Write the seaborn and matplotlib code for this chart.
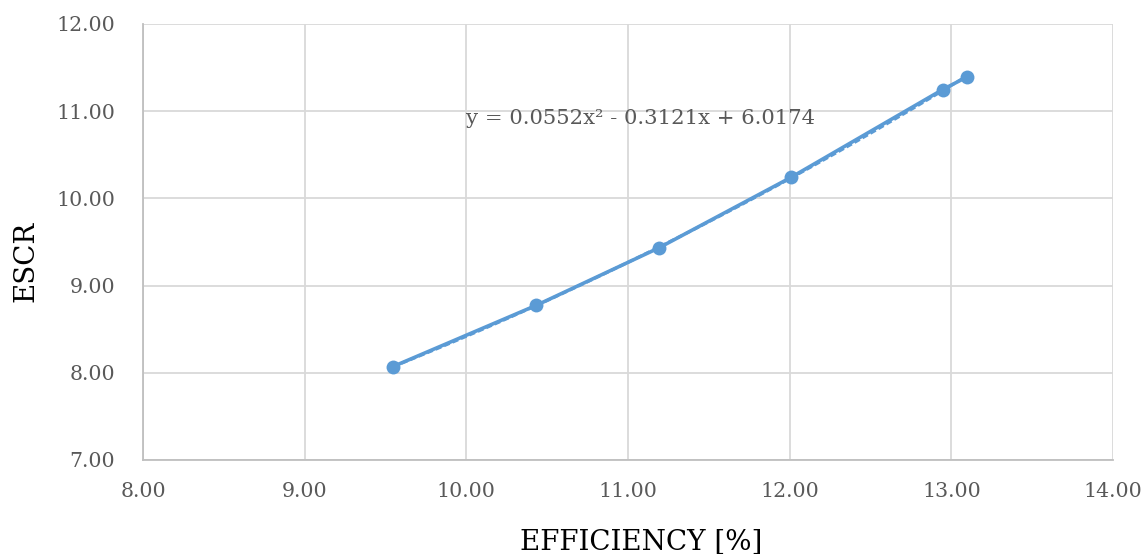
import matplotlib
matplotlib.use("Agg")
import matplotlib.pyplot as plt
import seaborn as sns
import numpy as np
import pandas as pd

efficiency = [9.547, 10.433, 11.189, 12.007, 12.946, 13.096]
escr = [8.072, 8.774, 9.431, 10.240, 11.248, 11.393]
x_ticks = [8, 9, 10, 11, 12, 13, 14]
y_ticks = [7, 8, 9, 10, 11, 12]
equation = "y = 0.0552x² - 0.3121x + 6.0174"

df = pd.DataFrame({"EFFICIENCY": efficiency, "ESCR": escr})

sns.set_theme(style="white")
plt.rcParams['font.family'] = ['DejaVu Serif']

color = "#5B9BD5"
fig = plt.figure(figsize=(11.44, 5.54), dpi=100)
ax = fig.add_axes([0.125, 0.1697, 0.848, 0.787])

sns.lineplot(data=df, x="EFFICIENCY", y="ESCR", ax=ax, color=color, lw=2.6,
             marker="o", markersize=10, markeredgewidth=0, sort=False, zorder=3)
sns.regplot(data=df, x="EFFICIENCY", y="ESCR", ax=ax, order=2, ci=None,
            scatter=False, truncate=True,
            line_kws=dict(color=color, lw=2.2, ls=(0, (2, 1)), zorder=4))

ax.set_xlim(8, 14)
ax.set_ylim(7, 12)
ax.set_xticks(x_ticks)
ax.set_yticks(y_ticks)
ax.set_xticklabels([f"{v:.2f}" for v in x_ticks])
ax.set_yticklabels([f"{v:.2f}" for v in y_ticks])
ax.grid(True, color="#D9D9D9", lw=1.3)
ax.set_axisbelow(True)
for s in ["top", "right"]:
    ax.spines[s].set_visible(False)
for s in ["left", "bottom"]:
    ax.spines[s].set_color("#BFBFBF")
    ax.spines[s].set_linewidth(1.3)
ax.tick_params(axis="both", length=0, labelsize=14.8, colors="#595959")
ax.tick_params(axis="y", pad=20)
ax.tick_params(axis="x", pad=16)

ax.set_xlabel("EFFICIENCY [%]", fontsize=20, color="black", labelpad=20)
ax.set_ylabel("ESCR", fontsize=20, color="black", labelpad=12)
ax.xaxis.label.set_x(0.514)
ax.yaxis.label.set_y(0.455)

ax.text(10.0, 10.92, equation, fontsize=15.2, color="#595959", va="center", ha="left")

fig.savefig("out.png", dpi=100)
